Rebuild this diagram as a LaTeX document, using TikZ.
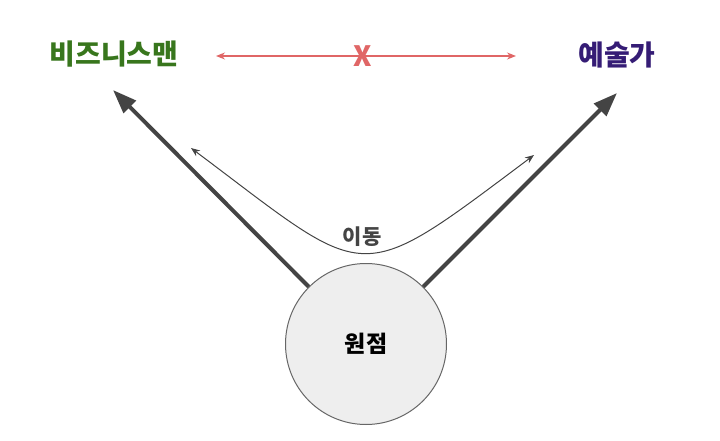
\documentclass[tikz,border=0pt]{standalone}
\usepackage{fontspec}
\setmainfont{Noto Sans CJK KR}
\usetikzlibrary{arrows.meta}
\definecolor{bizgreen}{HTML}{38761D}
\definecolor{artpurple}{HTML}{351C75}
\definecolor{xred}{HTML}{E06666}
\definecolor{darkline}{HTML}{444444}
\definecolor{circfill}{HTML}{EEEEEE}
\definecolor{circline}{HTML}{666666}
\tikzset{
  lbl/.style={font=\fontsize{28}{32}\selectfont\bfseries, inner sep=0pt},
  thick arrow/.style={draw=darkline, line width=4pt, -{Triangle[length=24pt,width=17pt]}},
  thin arrow/.style={draw=darkline, line width=1pt, {Stealth[length=9pt,width=7pt]}-{Stealth[length=9pt,width=7pt]}},
  red arrow/.style={draw=xred, line width=1.2pt, {Stealth[length=9pt,width=7pt]}-{Stealth[length=9pt,width=7pt]}},
}
\begin{document}
\begin{tikzpicture}[x=1pt,y=-1pt]
\useasboundingbox (0,0) rectangle (720,441);
\node[lbl, text=bizgreen] (biz) at (114,54) {비즈니스맨};
\node[lbl, text=artpurple] (art) at (617,55) {예술가};
\node[circle, draw=circline, line width=1pt, fill=circfill, minimum size=161pt, inner sep=0pt] (c) at (366,344) {};
\node[font=\fontsize{23}{26}\selectfont\bfseries] (orig) at (c) {원점};
\coordinate (lt) at (113,90);
\coordinate (rt) at (617,93);
\draw[thick arrow] (c.135) -- (lt);
\draw[thick arrow] (c.45) -- (rt);
\coordinate (l1) at (216,56);
\coordinate (r1) at (516,56);
\draw[red arrow] (l1) -- (r1);
\node[font=\fontsize{28}{30}\selectfont\bfseries, text=xred, inner sep=0pt] (x) at (363,56) {X};
\coordinate (ca) at (191,148);
\coordinate (cb) at (534,155);
\draw[thin arrow] (ca) .. controls (371,283) and (354,290) .. (cb);
\node[font=\fontsize{21}{24}\selectfont\bfseries, text=darkline, inner sep=0pt] (move) at (362,237) {이동};
\end{tikzpicture}
\end{document}
